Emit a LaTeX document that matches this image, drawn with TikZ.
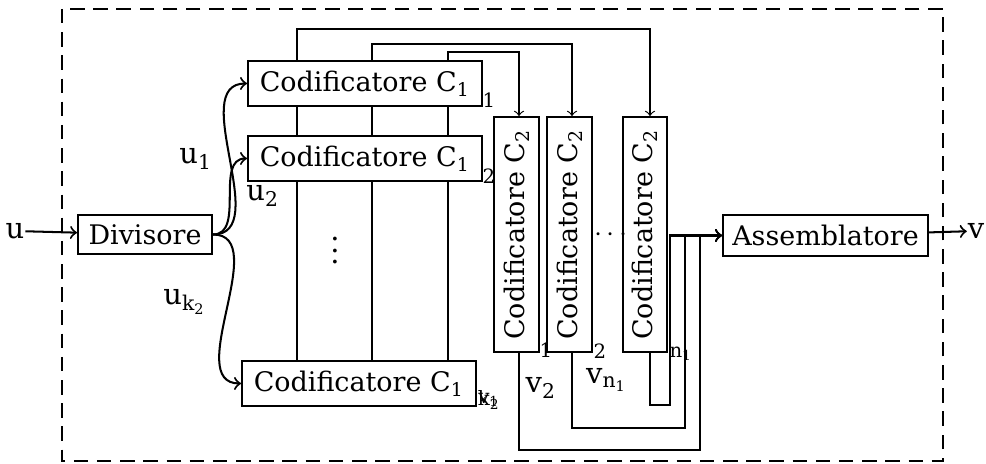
\documentclass[tikz,border=0pt]{standalone}
\usepackage{fontspec}
\setmainfont{DejaVu Serif}
\usetikzlibrary{calc,backgrounds}
\newcommand{\sbs}[1]{\textsubscript{#1}}
\begin{document}
\begin{tikzpicture}[x=0.345pt,y=-0.345pt,line width=0.7pt,
  font=\fontsize{9.3}{11}\selectfont,
  box/.style={draw,fill=white,inner sep=0pt},
  cone/.style={box,minimum width=80.7pt,minimum height=15.5pt},
  ctwo/.style={box,rotate=90,minimum width=81pt,minimum height=15.5pt},
  lbl/.style={inner sep=0pt,font=\fontsize{10}{12}\selectfont},
  sml/.style={inner sep=0pt,font=\fontsize{6.8}{8}\selectfont},
  frame/.style={dash pattern=on 5pt off 3pt}]
\useasboundingbox (0,0) rectangle (986,464);
% blocks
\node[box,minimum width=46.2pt,minimum height=13.5pt] (div) at (145,234.5) {Divisore};
\node[cone] (c1a) at (365,83.5) {Codificatore C\sbs{1}};
\node[cone] (c1b) at (365,158.5) {Codificatore C\sbs{1}};
\node[cone] (c1k) at (359,383.5) {Codificatore C\sbs{1}};
\node[ctwo] (c2a) at (516.5,234.5) {Codificatore C\sbs{2}};
\node[ctwo] (c2b) at (569.5,234.5) {Codificatore C\sbs{2}};
\node[ctwo] (c2n) at (645,234.5) {Codificatore C\sbs{2}};
\node[box,minimum width=70.7pt,minimum height=14.1pt] (asm) at (825.5,235.5) {Assemblatore};
\node[lbl] (uin) at (15,231) {u};
\node[lbl] (vout) at (976,231) {v};
% labels
\node[lbl] (lu1) at (196,159) {u\sbs{1}};
\node[lbl] (lu2) at (263,196) {u\sbs{2}};
\node[lbl] (luk) at (185,302) {u\sbs{k\sbs{2}}};
\node[lbl] (lv2) at (541,388) {v\sbs{2}};
\node[lbl] (lvn) at (607,380) {v\sbs{n\sbs{1}}};
\node[sml] (i1) at (489,100) {1};
\node[sml] (i2) at (489,176) {2};
\node[sml] (ik) at (489,400) {k\sbs{2}};
\node[sml] (iv) at (489,400) {v\sbs{1}};
\node[sml] (j1) at (546,350) {1};
\node[sml] (j2) at (600,351) {2};
\node[sml] (jn) at (681,354) {n\sbs{1}};
\node[lbl] (vd) at (335,242) {$\vdots$};
\node[lbl] (hd) at (611,235) {$\cdots$};
% corner points
\coordinate (t1) at (297,29);
\coordinate (t2) at (372,44);
\coordinate (t3) at (448,52);
\coordinate (o1) at (700,450);
\coordinate (o2) at (685,428);
\coordinate (o3) at (670,405);
\begin{scope}[on background layer]
\draw[frame] (62,9) rectangle (943,461);
\draw[->] (c1k.north -| t1) -- (t1) -| ($(c2n.east)+(5,0)$);
\draw[->] (c1k.north -| t2) -- (t2) -| ($(c2b.east)+(2.5,0)$);
\draw[->] (c1k.north -| t3) -- (t3) -| ($(c2a.east)+(2.5,0)$);
\end{scope}
\draw[->] ($(c2a.west)+(2.5,0)$) |- (o1) |- (asm.west);
\draw[->] ($(c2b.west)+(2.5,0)$) |- (o2) |- (asm.west);
\draw[->] ($(c2n.west)+(5,0)$) |- (o3) |- (asm.west);
\draw[->] (uin) -- (div);
\draw[->] (asm) -- (vout);
\draw[->] (div.east) to[out=0,in=180] (c1a.west);
\draw[->] (div.east) to[out=0,in=180] (c1b.west);
\draw[->] (div.east) to[out=0,in=180] (c1k.west);
\end{tikzpicture}
\end{document}
